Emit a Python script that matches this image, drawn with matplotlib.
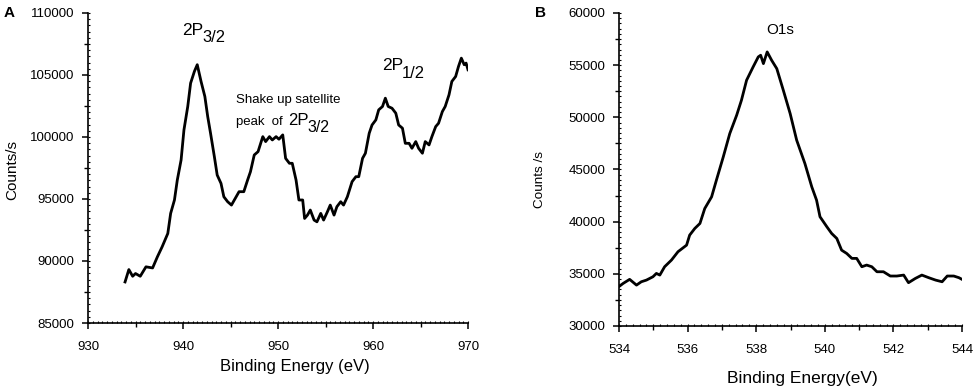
import numpy as np
import matplotlib
matplotlib.use("Agg")
import matplotlib.pyplot as plt

plt.rcParams['font.family'] = ['Liberation Sans', 'DejaVu Sans']

# Panel A: Cu 2p spectrum
cu_energy = [933.9, 934.3, 934.7, 935.0, 935.5, 936.1, 936.8, 937.3, 937.8, 938.4,
             938.7, 939.1, 939.4, 939.8, 940.1, 940.5, 940.8, 941.2, 941.5, 941.9,
             942.3, 942.6, 942.9, 943.3, 943.6, 944.0, 944.3, 944.7, 945.1, 945.5,
             945.9, 946.4, 946.8, 947.1, 947.5, 947.9, 948.4, 948.7, 949.1, 949.4,
             949.8, 950.1, 950.5, 950.8, 951.2, 951.5, 951.9, 952.2, 952.6, 952.8,
             953.1, 953.4, 953.8, 954.1, 954.5, 954.8, 955.2, 955.5, 955.9, 956.2,
             956.6, 956.9, 957.3, 957.8, 958.2, 958.5, 958.9, 959.2, 959.6, 959.9,
             960.3, 960.6, 961.0, 961.3, 961.6, 962.0, 962.4, 962.7, 963.1, 963.4,
             963.8, 964.1, 964.5, 964.8, 965.2, 965.5, 965.9, 966.2, 966.6, 966.9,
             967.3, 967.6, 968.0, 968.3, 968.7, 969.0, 969.3, 969.6, 969.8, 970.0]
cu_counts = [88310, 89310, 88770, 88990, 88770, 89530, 89440, 90330, 91140, 92220,
             93840, 94920, 96530, 98150, 100570, 102460, 104340, 105290, 105830, 104480,
             103270, 101650, 100300, 98420, 96930, 96260, 95180, 94780, 94510, 95050,
             95590, 95590, 96530, 97200, 98550, 98820, 100030, 99630, 100030, 99760,
             100030, 99820, 100170, 98280, 97880, 97880, 96530, 94920, 94920, 93430,
             93700, 94110, 93300, 93160, 93840, 93300, 93970, 94510, 93700, 94380,
             94780, 94510, 95180, 96400, 96800, 96800, 98280, 98690, 100300, 100970,
             101380, 102190, 102460, 103130, 102460, 102320, 101920, 100970, 100710, 99490,
             99490, 99090, 99630, 99090, 98690, 99630, 99360, 100030, 100840, 101110,
             102050, 102460, 103400, 104480, 104880, 105690, 106360, 105830, 105960, 105420]

# Panel B: O 1s spectrum
o_energy = [534.02, 534.12, 534.31, 534.51, 534.65, 534.80, 534.99, 535.09, 535.19, 535.33,
            535.53, 535.72, 535.97, 536.06, 536.21, 536.36, 536.50, 536.70, 536.84, 537.04,
            537.23, 537.43, 537.57, 537.72, 537.91, 538.06, 538.13, 538.21, 538.32, 538.45,
            538.60, 538.79, 538.99, 539.18, 539.42, 539.62, 539.76, 539.86, 540.06, 540.20,
            540.35, 540.49, 540.64, 540.79, 540.93, 541.08, 541.22, 541.37, 541.52, 541.71,
            541.91, 542.10, 542.30, 542.44, 542.64, 542.83, 543.03, 543.23, 543.42, 543.57,
            543.76, 543.91, 544.00]
o_counts = [33830, 34080, 34470, 33920, 34240, 34400, 34720, 35040, 34880, 35680,
            36320, 37120, 37750, 38710, 39350, 39830, 41260, 42380, 43980, 46210,
            48450, 50200, 51640, 53560, 54830, 55790, 55950, 55150, 56270, 55470,
            54670, 52600, 50360, 47810, 45570, 43340, 42060, 40470, 39510, 38870,
            38390, 37270, 36950, 36480, 36480, 35680, 35840, 35680, 35200, 35200,
            34790, 34790, 34880, 34150, 34560, 34880, 34630, 34400, 34240, 34790,
            34790, 34630, 34470]

a_xticks = [930, 940, 950, 960, 970]
a_yticks = [85000, 90000, 95000, 100000, 105000, 110000]
b_xticks = [534, 536, 538, 540, 542, 544]
b_yticks = [30000, 35000, 40000, 45000, 50000, 55000, 60000]

W, H = 978, 391
fig = plt.figure(figsize=(W / 100, H / 100), dpi=100)


def px_axes(l, t, r, b):
    return fig.add_axes([l / W, 1 - b / H, (r - l) / W, (b - t) / H])


def style(ax, xt, yt, xminor, yminor, xfine, yfine):
    for s in ['top', 'right']:
        ax.spines[s].set_visible(False)
    for s in ['left', 'bottom']:
        ax.spines[s].set_linewidth(1.2)
    ax.set_xticks(xt)
    ax.set_yticks(yt)
    ax.set_xticks(xminor, minor=True)
    ax.set_yticks(yminor, minor=True)
    ax.tick_params(which='major', direction='out', length=4, width=1.1, labelsize=9.5)
    ax.tick_params(which='minor', direction='out', length=3, width=1.0)
    ax.tick_params(axis='x', which='major', pad=9)
    ax.tick_params(axis='y', which='major', pad=6)
    sx = ax.secondary_xaxis('bottom')
    sx.set_xticks(xfine)
    sx.tick_params(direction='in', length=1.5, width=0.8, labelbottom=False)
    sx.spines['bottom'].set_visible(False)
    sy = ax.secondary_yaxis('left')
    sy.set_yticks(yfine)
    sy.tick_params(direction='in', length=1.5, width=0.8, labelleft=False)
    sy.spines['left'].set_visible(False)


# Panel A
axA = px_axes(88, 13, 468, 323)
axA.plot(cu_energy, cu_counts, color='black', lw=2.0)
axA.set_xlim(930, 970)
axA.set_ylim(85000, 110000)
style(axA, a_xticks, a_yticks,
      np.arange(935, 970, 10), np.arange(87500, 110000, 5000),
      np.arange(930, 970.01, 0.5), np.arange(85000, 110001, 500))

# Panel B
axB = px_axes(619, 13, 962, 326)
axB.plot(o_energy, o_counts, color='black', lw=2.0)
axB.set_xlim(534, 544)
axB.set_ylim(30000, 60000)
style(axB, b_xticks, b_yticks,
      np.arange(535, 544, 2), np.arange(32500, 60000, 5000),
      np.arange(534, 544.01, 0.2), np.arange(30000, 60001, 500))


def ftext(x, y, s, **kw):
    fig.text(x / W, 1 - y / H, s, **kw)


# Axis labels
ftext(295, 367, 'Binding Energy (eV)', fontsize=12, ha='center', va='center')
ftext(12, 170, 'Counts/s', fontsize=11, ha='center', va='center', rotation=90)
ftext(802, 378, 'Binding Energy(eV)', fontsize=12.5, ha='center', va='center')
ftext(540, 180, 'Counts /s', fontsize=9.7, ha='center', va='center', rotation=90)

# Panel letters
ftext(9, 13, 'A', fontsize=11, ha='center', va='center', fontweight='bold')
ftext(541, 13, 'B', fontsize=11, ha='center', va='center', fontweight='bold')


def term(x, y, sub, size=12.5):
    # "2P" with a large, lowered subscript
    ftext(x, y, '2P', fontsize=size, ha='left', va='baseline')
    ftext(x + size * 1.6, y + size * 0.6, sub, fontsize=size * 0.95,
          ha='left', va='baseline')


# Annotations panel A
term(182, 35, '3/2')
term(382, 70, '1/2')
ftext(236, 100, 'Shake up satellite', fontsize=9.5, ha='left', va='center')
ftext(236, 122, 'peak  of ', fontsize=9.5, ha='left', va='center')
term(288, 125, '3/2', size=12)

# Annotation panel B
ftext(780, 30, 'O1s', fontsize=11, ha='center', va='center')

fig.savefig('out.png', dpi=100)
